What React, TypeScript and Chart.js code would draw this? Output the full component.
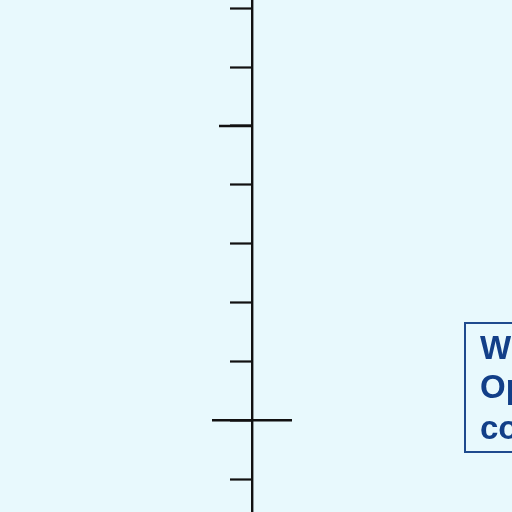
import { useEffect, useRef } from "react"
import { Chart, registerables } from "chart.js"

Chart.register(...registerables)

// y-axis tick positions (values), and the extra marks drawn on the axis
const tickValues = [-1, 0, 1, 2, 3, 4, 5, 6, 7]
const markX = [-16.5, 0]
const markY = [5, 0]
const markHalfLength = [16.5, 40]

const noteLines = ["Wind", "Open", "count"]

export default function App() {
  const chartRef = useRef<HTMLCanvasElement>(null)
  const chartInstance = useRef<Chart | null>(null)

  useEffect(() => {
    if (!chartRef.current) return

    chartInstance.current = new Chart(chartRef.current, {
      type: "scatter",
      data: {
        datasets: [
          {
            data: markX.map((x, i) => ({ x, y: markY[i] })),
            pointStyle: "line",
            pointRadius: markHalfLength,
            pointBorderWidth: 2.6,
            borderColor: "#111",
            backgroundColor: "#111",
            clip: false,
          },
        ],
      },
      options: {
        animation: false,
        responsive: true,
        maintainAspectRatio: false,
        layout: { padding: 0, autoPadding: false },
        plugins: {
          legend: { display: false },
          tooltip: { enabled: false },
        },
        scales: {
          x: {
            type: "linear",
            min: -252,
            max: 260,
            display: false,
          },
          y: {
            type: "linear",
            min: -1.56,
            max: 7.14,
            position: { x: 0 },
            afterBuildTicks: (scale) => {
              scale.ticks = tickValues.map((value) => ({ value }))
            },
            ticks: { display: false },
            border: { display: true, color: "#111", width: 2.4 },
            grid: {
              drawOnChartArea: false,
              drawTicks: true,
              tickLength: 21,
              tickColor: "#111",
              tickWidth: 2.2,
            },
          },
        },
      },
    })

    return () => {
      chartInstance.current?.destroy()
    }
  }, [])

  const textStyle = {
    position: "absolute" as const,
    left: 14,
    fontSize: 33,
    lineHeight: 1,
    whiteSpace: "nowrap" as const,
  }

  return (
    <div
      style={{
        position: "fixed",
        left: 0,
        top: 0,
        width: 512,
        height: 512,
        overflow: "hidden",
        background: "#e8f9fd",
      }}
    >
      <canvas ref={chartRef} />
      <div
        style={{
          position: "absolute",
          left: 464,
          top: 322,
          width: 140,
          height: 131,
          border: "2px solid #1f4b8e",
          boxSizing: "border-box",
          fontFamily: "'Liberation Sans', Arial, sans-serif",
          fontWeight: "bold",
          color: "#123f88",
        }}
      >
        <div style={{ ...textStyle, top: 7 }}>{noteLines[0]}</div>
        <div style={{ ...textStyle, top: 46 }}>{noteLines[1]}</div>
        <div style={{ ...textStyle, top: 87 }}>{noteLines[2]}</div>
      </div>
    </div>
  )
}
